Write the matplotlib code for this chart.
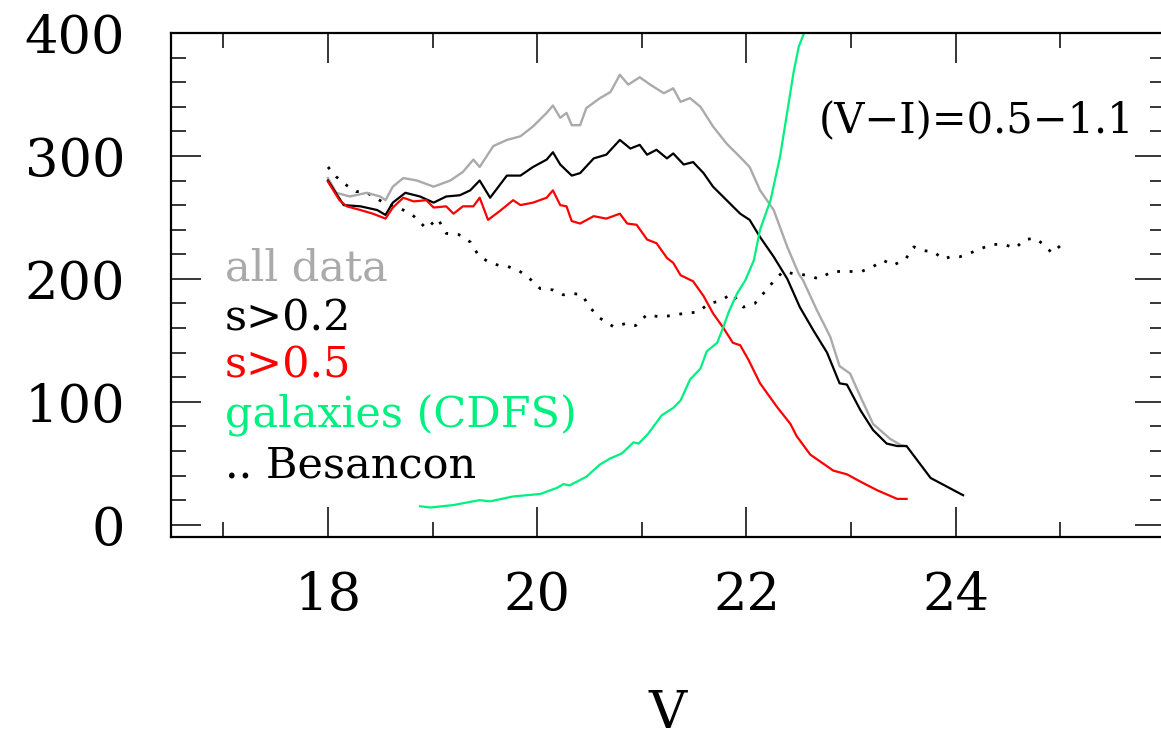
import matplotlib
matplotlib.use('Agg')
import matplotlib.pyplot as plt
from matplotlib.ticker import MultipleLocator

plt.rcParams['font.family'] = ['DejaVu Serif']

# --- data ---
v_all = [18.00, 18.08, 18.21, 18.37, 18.50, 18.55, 18.62, 18.72, 18.85, 19.01,
         19.17, 19.29, 19.39, 19.45, 19.58, 19.71, 19.84, 19.96, 20.09, 20.15,
         20.22, 20.28, 20.33, 20.41, 20.47, 20.60, 20.70, 20.79, 20.87, 20.98,
         21.08, 21.21, 21.30, 21.37, 21.46, 21.56, 21.62, 21.68, 21.81, 21.94,
         22.03, 22.13, 22.26, 22.39, 22.50, 22.54, 22.67, 22.80, 22.89, 22.99,
         23.09, 23.21, 23.37, 23.47, 23.52]
n_all = [282, 270, 267, 270, 267, 264, 275, 282, 280, 275,
         280, 287, 297, 291, 308, 313, 316, 324, 335, 341,
         331, 335, 325, 325, 339, 347, 352, 366, 358, 364,
         358, 351, 355, 344, 347, 340, 332, 324, 310, 299,
         291, 272, 256, 226, 204, 199, 175, 153, 129, 123,
         104, 82, 70, 65, 64]

v_s02 = [18.00, 18.15, 18.31, 18.47, 18.55, 18.62, 18.74, 18.88, 19.01, 19.13,
         19.26, 19.36, 19.45, 19.55, 19.71, 19.84, 19.96, 20.09, 20.15, 20.22,
         20.33, 20.41, 20.54, 20.66, 20.79, 20.89, 20.98, 21.05, 21.14, 21.24,
         21.30, 21.40, 21.49, 21.59, 21.68, 21.81, 21.94, 22.03, 22.13, 22.26,
         22.39, 22.51, 22.64, 22.77, 22.89, 22.96, 23.09, 23.21, 23.34, 23.44,
         23.53, 23.76, 24.07]
n_s02 = [280, 260, 259, 256, 252, 262, 270, 267, 262, 267,
         268, 272, 280, 266, 284, 284, 291, 297, 303, 293,
         284, 286, 298, 301, 313, 306, 309, 301, 305, 298,
         302, 293, 295, 286, 275, 264, 253, 248, 234, 218,
         200, 177, 158, 140, 115, 114, 93, 77, 66, 64,
         64, 38, 24]

v_s05 = [18.00, 18.11, 18.18, 18.31, 18.43, 18.55, 18.62, 18.72, 18.82, 18.94,
         19.01, 19.13, 19.20, 19.29, 19.39, 19.45, 19.53, 19.64, 19.77, 19.84,
         19.96, 20.09, 20.15, 20.22, 20.28, 20.33, 20.41, 20.54, 20.66, 20.79,
         20.86, 20.95, 21.05, 21.14, 21.24, 21.30, 21.37, 21.49, 21.59, 21.68,
         21.78, 21.87, 21.94, 22.02, 22.13, 22.29, 22.42, 22.48, 22.61, 22.83,
         22.96, 23.09, 23.25, 23.44, 23.53]
n_s05 = [279, 264, 259, 256, 253, 249, 258, 266, 263, 264,
         258, 259, 253, 259, 259, 266, 248, 255, 264, 260,
         262, 266, 272, 260, 259, 247, 245, 251, 249, 253,
         245, 244, 232, 229, 217, 213, 203, 198, 186, 172,
         160, 148, 146, 134, 115, 96, 82, 72, 57, 44,
         41, 35, 28, 21, 21]

v_gal = [18.88, 18.98, 19.20, 19.45, 19.55, 19.77, 20.03, 20.19, 20.25, 20.31,
         20.47, 20.60, 20.70, 20.81, 20.92, 20.97, 21.06, 21.19, 21.30, 21.37,
         21.46, 21.56, 21.62, 21.72, 21.78, 21.83, 21.91, 21.99, 22.07, 22.13,
         22.23, 22.32, 22.39, 22.45, 22.50, 22.56]
n_gal = [15, 14, 16, 20, 19, 23, 25, 30, 33, 32,
         39, 49, 54, 58, 67, 66, 74, 89, 95, 101,
         118, 127, 141, 148, 161, 173, 188, 199, 215, 240,
         264, 299, 336, 368, 389, 402]

v_bes = [18.00, 18.08, 18.18, 18.27, 18.34, 18.42, 18.53, 18.72, 18.82, 18.94,
         19.05, 19.13, 19.25, 19.36, 19.44, 19.53, 19.63, 19.72, 19.82, 19.93,
         20.03, 20.15, 20.25, 20.35, 20.43, 20.50, 20.60, 20.73, 20.86, 20.94,
         21.05, 21.17, 21.27, 21.41, 21.54, 21.64, 21.75, 21.86, 21.97, 22.08,
         22.18, 22.26, 22.35, 22.46, 22.58, 22.69, 22.82, 23.01, 23.10, 23.21,
         23.31, 23.40, 23.52, 23.60, 23.69, 23.79, 23.88, 23.95, 24.04, 24.14,
         24.22, 24.35, 24.46, 24.57, 24.66, 24.76, 24.84, 24.92, 25.00]
n_bes = [291, 283, 276, 271, 271, 268, 262, 256, 251, 241,
         249, 237, 236, 230, 219, 214, 211, 210, 207, 200,
         192, 191, 187, 188, 187, 177, 168, 161, 164, 162,
         171, 169, 170, 172, 173, 180, 182, 188, 177, 180,
         190, 198, 206, 204, 203, 200, 206, 206, 206, 210,
         215, 211, 216, 226, 223, 222, 216, 218, 218, 221,
         224, 228, 228, 225, 232, 233, 228, 221, 227]

x_major = [18, 20, 22, 24]

gray = '#aaaaaa'
green = '#00f080'

# --- figure ---
fig = plt.figure(figsize=(11.61, 7.44), dpi=100)
# right spine sits just past the image edge, as in the original
ax = fig.add_axes([171 / 1161, 1 - 537 / 744, 994 / 1161, 504 / 744])

ax.plot(v_bes, n_bes, color='black', lw=2.0, linestyle=(0, (1, 3.5)))
ax.plot(v_all, n_all, color=gray, lw=1.7)
ax.plot(v_s02, n_s02, color='black', lw=1.6)
ax.plot(v_s05, n_s05, color='red', lw=1.6)
ax.plot(v_gal, n_gal, color=green, lw=1.6)

ax.set_xlim(16.5, 26)
ax.set_ylim(-10, 400)
ax.set_xticks(x_major)
ax.xaxis.set_minor_locator(MultipleLocator(1))
ax.yaxis.set_major_locator(MultipleLocator(100))
ax.yaxis.set_minor_locator(MultipleLocator(20))
ax.tick_params(which='both', direction='in', top=True, right=True, width=1.1)
ax.tick_params(which='major', length=21.5, labelsize=38)
ax.tick_params(which='minor', length=10.8)
ax.tick_params(axis='x', which='major', pad=24)
ax.tick_params(axis='y', which='major', pad=33)
for s in ax.spines.values():
    s.set_linewidth(1.6)

ax.set_xlabel('V', fontsize=38)
ax.xaxis.set_label_coords(0.5, -0.30)

# text "legend"
labels = ['all data', 's>0.2', 's>0.5', 'galaxies (CDFS)', '.. Besancon']
lab_colors = [gray, 'black', 'red', green, 'black']
lab_y = [0.5085, 0.4107, 0.3155, 0.2188, 0.1177]
for t, c, y in zip(labels, lab_colors, lab_y):
    ax.text(0.0543, y, t, color=c, fontsize=31, transform=ax.transAxes,
            ha='left', va='baseline')

ax.text(0.9688, 0.801, '(V\u2212I)=0.5\u22121.1', fontsize=30,
        transform=ax.transAxes, ha='right', va='baseline')

fig.savefig('out.png', dpi=100)
